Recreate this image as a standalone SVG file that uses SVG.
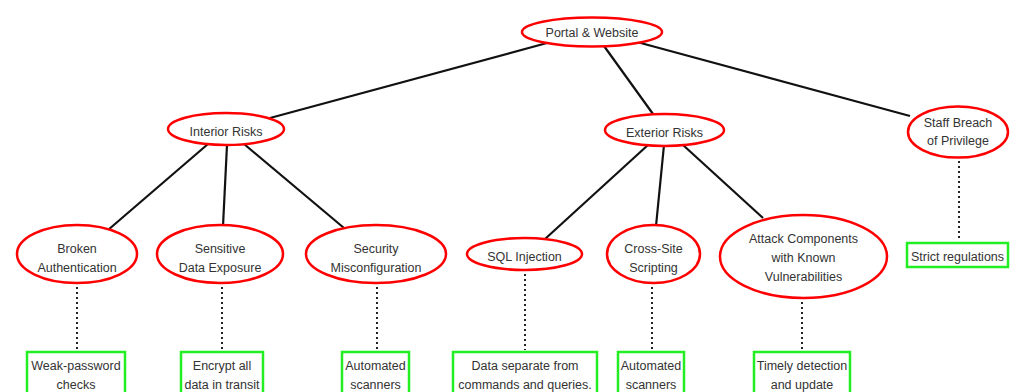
<svg xmlns="http://www.w3.org/2000/svg" width="1014" height="392" viewBox="0 0 1014 392">
  <style>
    .risk ellipse { fill: #ffffff; stroke: #ff0000; stroke-width: 2.5; }
    .fix rect { fill: #ffffff; stroke: #22ee22; stroke-width: 2.5; }
    text { font-family: "Liberation Sans", Arial, sans-serif; font-size: 12.5px; fill: #333333; text-anchor: middle; }
    .edge { stroke: #111111; stroke-width: 2.2; fill: none; }
    .dot { stroke: #222222; stroke-width: 2; stroke-dasharray: 2 3; fill: none; }
  </style>
  <rect width="1014" height="392" fill="#ffffff"/>

  <!-- connectors -->
  <g id="connectors">
    <line class="edge" x1="547" y1="43" x2="270" y2="118"/>
    <line class="edge" x1="604" y1="46" x2="653" y2="114"/>
    <line class="edge" x1="637" y1="42" x2="910" y2="116"/>
    <line class="edge" x1="208" y1="144" x2="108" y2="230"/>
    <line class="edge" x1="227" y1="145" x2="223" y2="226"/>
    <line class="edge" x1="244" y1="144" x2="344" y2="228"/>
    <line class="edge" x1="648" y1="145" x2="545" y2="239"/>
    <line class="edge" x1="664" y1="145" x2="656" y2="226"/>
    <line class="edge" x1="683" y1="145" x2="763" y2="218"/>
    <line class="dot" x1="77" y1="287" x2="77" y2="350"/>
    <line class="dot" x1="222" y1="287" x2="222" y2="350"/>
    <line class="dot" x1="377" y1="287" x2="377" y2="350"/>
    <line class="dot" x1="525" y1="274" x2="525" y2="350"/>
    <line class="dot" x1="652" y1="287" x2="652" y2="350"/>
    <line class="dot" x1="802" y1="302" x2="802" y2="350"/>
    <line class="dot" x1="959" y1="161" x2="959" y2="241"/>
  </g>

  <!-- risk nodes -->
  <g id="portal" class="risk">
    <ellipse cx="592" cy="32" rx="70" ry="14.5"/>
    <text x="592" y="36.5">Portal &amp; Website</text>
  </g>
  <g id="interior" class="risk">
    <ellipse cx="226" cy="129" rx="58" ry="16"/>
    <text x="226" y="136">Interior Risks</text>
  </g>
  <g id="exterior" class="risk">
    <ellipse cx="664.5" cy="130" rx="59.5" ry="16"/>
    <text x="664.5" y="136.5">Exterior Risks</text>
  </g>
  <g id="staff" class="risk">
    <ellipse cx="958" cy="132" rx="50" ry="25.5"/>
    <text x="958" y="127">Staff Breach</text>
    <text x="958" y="145">of Privilege</text>
  </g>
  <g id="broken-auth" class="risk">
    <ellipse cx="77" cy="254" rx="60" ry="29"/>
    <text x="77" y="253">Broken</text>
    <text x="77" y="271.5">Authentication</text>
  </g>
  <g id="data-exposure" class="risk">
    <ellipse cx="220" cy="254" rx="63" ry="29"/>
    <text x="220" y="253">Sensitive</text>
    <text x="220" y="271.5">Data Exposure</text>
  </g>
  <g id="misconfig" class="risk">
    <ellipse cx="376" cy="254" rx="70" ry="29"/>
    <text x="376" y="253">Security</text>
    <text x="376" y="271.5">Misconfiguration</text>
  </g>
  <g id="sql" class="risk">
    <ellipse cx="524.5" cy="254" rx="57.5" ry="16"/>
    <text x="524.5" y="261">SQL Injection</text>
  </g>
  <g id="xss" class="risk">
    <ellipse cx="653.5" cy="254" rx="46.5" ry="29"/>
    <text x="653.5" y="253">Cross-Site</text>
    <text x="653.5" y="271.5">Scripting</text>
  </g>
  <g id="components" class="risk">
    <ellipse cx="803.5" cy="256.5" rx="83.5" ry="41.5"/>
    <text x="803.5" y="243">Attack Components</text>
    <text x="803.5" y="262">with Known</text>
    <text x="803.5" y="281">Vulnerabilities</text>
  </g>

  <!-- countermeasure boxes -->
  <g id="fix-password" class="fix">
    <rect x="27" y="352" width="98" height="50"/>
    <text x="76" y="370">Weak-password</text>
    <text x="76" y="389">checks</text>
  </g>
  <g id="fix-encrypt" class="fix">
    <rect x="181" y="352" width="82" height="50"/>
    <text x="222" y="370">Encrypt all</text>
    <text x="222" y="389">data in transit</text>
  </g>
  <g id="fix-scan1" class="fix">
    <rect x="342" y="352" width="67" height="50"/>
    <text x="375.5" y="370">Automated</text>
    <text x="375.5" y="389">scanners</text>
  </g>
  <g id="fix-separate" class="fix">
    <rect x="453" y="352" width="144" height="50"/>
    <text x="525" y="370">Data separate from</text>
    <text x="525" y="389">commands and queries.</text>
  </g>
  <g id="fix-scan2" class="fix">
    <rect x="618" y="352" width="66" height="50"/>
    <text x="651" y="370">Automated</text>
    <text x="651" y="389">scanners</text>
  </g>
  <g id="fix-update" class="fix">
    <rect x="754" y="352" width="96" height="50"/>
    <text x="802" y="370">Timely detection</text>
    <text x="802" y="389">and update</text>
  </g>
  <g id="fix-regulations" class="fix">
    <rect x="907" y="243" width="101" height="24"/>
    <text x="957.5" y="261">Strict regulations</text>
  </g>
</svg>
